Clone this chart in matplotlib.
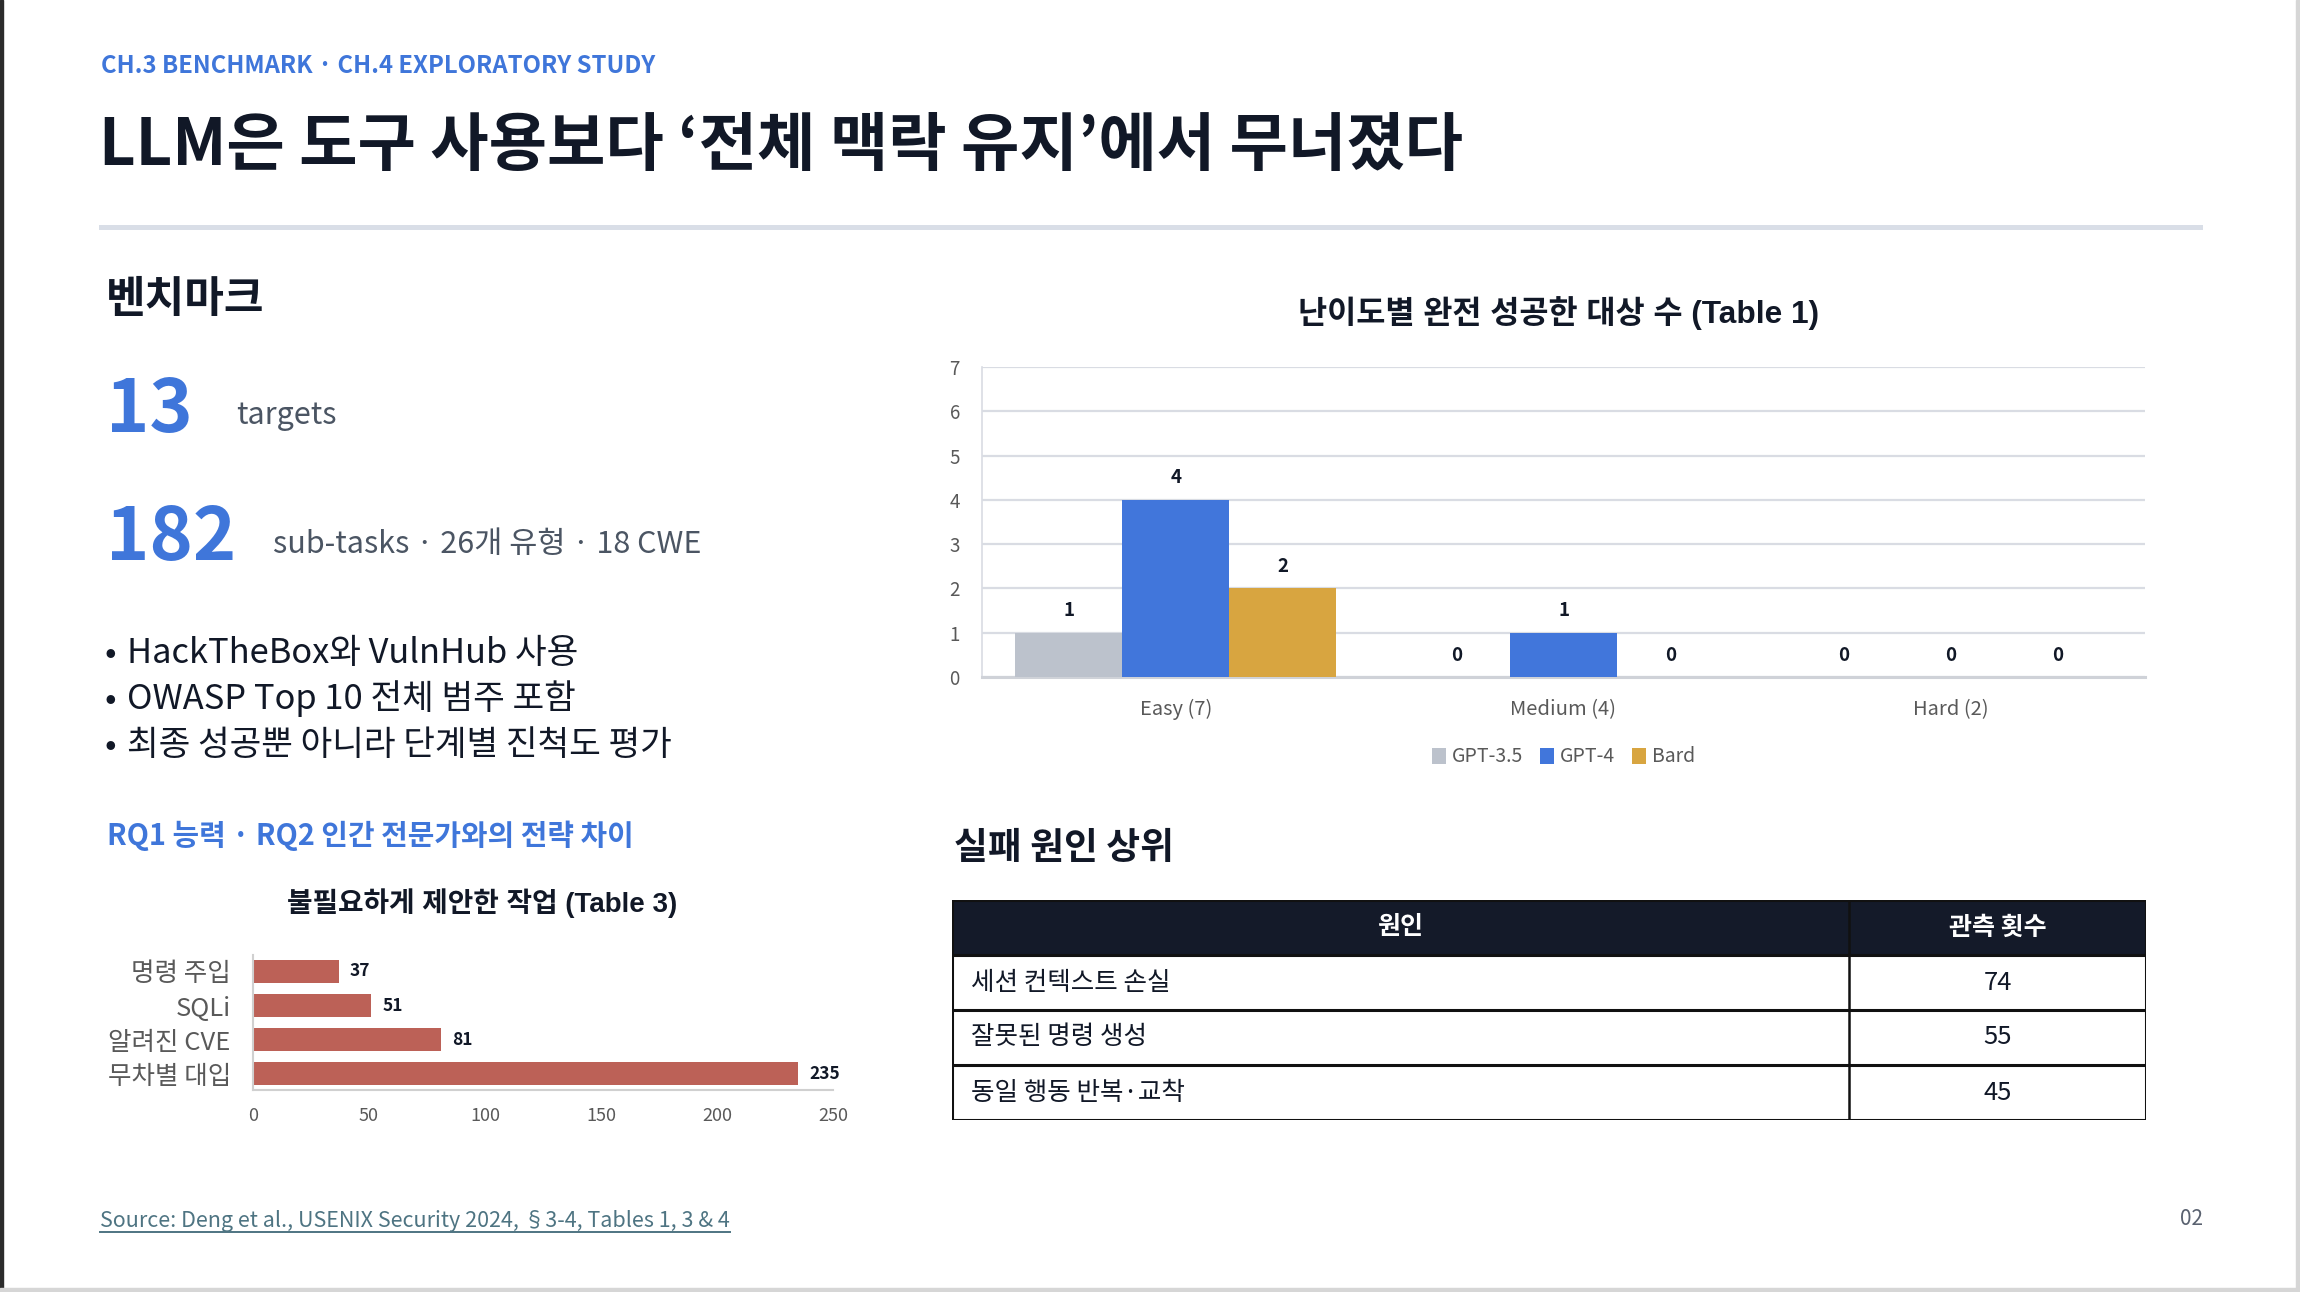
import numpy as np
import matplotlib
matplotlib.use("Agg")
import matplotlib.pyplot as plt
from matplotlib.patches import Rectangle

plt.rcParams['font.family'] = ['Noto Sans CJK KR', 'DejaVu Sans']

# ---- data ----
levels = ['Easy (7)', 'Medium (4)', 'Hard (2)']
models = ['GPT-3.5', 'GPT-4', 'Bard']
success = {
    'GPT-3.5': [1, 0, 0],
    'GPT-4': [4, 1, 0],
    'Bard': [2, 0, 0],
}
model_colors = ['#bcc2cc', '#4176db', '#d8a540']

task_names = ['명령 주입', 'SQLi', '알려진 CVE', '무차별 대입']
task_counts = [37, 51, 81, 235]

cause_names = ['세션 컨텍스트 손실', '잘못된 명령 생성', '동일 행동 반복·교착']
cause_counts = [74, 55, 45]

bullets = ['HackTheBox와 VulnHub 사용',
           'OWASP Top 10 전체 범주 포함',
           '최종 성공뿐 아니라 단계별 진척도 평가']

W, H = 2300, 1292
BLUE = '#3f76da'
DARK = '#111827'
GRAY = '#595959'


def fx(px):
    return px / W


def fy(py):
    return 1 - py / H


fig = plt.figure(figsize=(W / 100, H / 100), dpi=100)
fig.patch.set_facecolor('white')

# page frame
fig.add_artist(Rectangle((0, 0), fx(3), 1, transform=fig.transFigure, color='#2b2b2b', zorder=0))
fig.add_artist(Rectangle((fx(2296), 0), fx(4), 1, transform=fig.transFigure, color='#d6d6d6', zorder=0))
fig.add_artist(Rectangle((0, 0), 1, 4 / H, transform=fig.transFigure, color='#d6d6d6', zorder=0))

# header
fig.text(fx(101), fy(66), 'CH.3 BENCHMARK · CH.4 EXPLORATORY STUDY', color=BLUE,
         fontsize=17.2, fontweight='bold', va='center')
fig.text(fx(99), fy(165), 'LLM은 도구 사용보다 ‘전체 맥락 유지’에서 무너졌다', color=DARK,
         fontsize=45.7, fontweight='bold', va='baseline')
fig.add_artist(plt.Line2D([fx(101), fx(2200)], [fy(226.5), fy(226.5)], transform=fig.transFigure,
                          color='#d9dee7', lw=3.6))

# left column text
fig.text(fx(106), fy(299), '벤치마크', color=DARK, fontsize=31, fontweight='bold', va='center')
fig.text(fx(106), fy(432), '13', color=BLUE, fontsize=53, fontweight='bold', va='baseline')
fig.text(fx(236), fy(424), 'targets', color='#4b5563', fontsize=22, va='baseline')
fig.text(fx(106), fy(560), '182', color=BLUE, fontsize=53, fontweight='bold', va='baseline')
fig.text(fx(273), fy(553), 'sub-tasks · 26개 유형 · 18 CWE', color='#4b5563', fontsize=22, va='baseline')
for i, b in enumerate(bullets):
    fig.text(fx(105), fy(663 + 46 * i), '•', color=DARK, fontsize=24.8, va='baseline')
    fig.text(fx(127), fy(663 + 46 * i), b, color=DARK, fontsize=24.8, va='baseline')
fig.text(fx(107), fy(845), 'RQ1 능력 · RQ2 인간 전문가와의 전략 차이', color=BLUE,
         fontsize=20.8, fontweight='bold', va='baseline')

# ---- small horizontal bar chart ----
fig.text(fx(482), fy(903), '불필요하게 제안한 작업 (Table 3)', color=DARK, fontsize=20,
         fontweight='bold', ha='center', va='center',
         family=['Liberation Sans', 'Noto Sans CJK KR'])
ax2 = fig.add_axes([fx(253), fy(1090), fx(833 - 253), (1090 - 955) / H])
ypos = np.arange(len(task_names))
bars2 = ax2.barh(ypos, task_counts, height=0.67, color='#bc6157')
ax2.set_ylim(3.47, -0.48)
ax2.set_xlim(0, 250)
ax2.set_xticks(np.arange(0, 251, 50))
ax2.set_yticks(ypos)
ax2.set_yticklabels(task_names)
ax2.tick_params(axis='x', length=0, pad=12, labelsize=13, labelcolor=GRAY)
ax2.tick_params(axis='y', length=0, pad=16, labelsize=18.4, labelcolor=GRAY)
for s in ['top', 'right']:
    ax2.spines[s].set_visible(False)
for s in ['left', 'bottom']:
    ax2.spines[s].set_color('#d0d0d0')
    ax2.spines[s].set_linewidth(1.5)
ax2.bar_label(bars2, padding=8, fontsize=12.5, fontweight='bold', color=DARK)

# ---- grouped bar chart ----
fig.text(fx(1559), fy(313), '난이도별 완전 성공한 대상 수 (Table 1)', color=DARK, fontsize=22.8,
         fontweight='bold', ha='center', va='center',
         family=['Liberation Sans', 'Noto Sans CJK KR'])
ax1 = fig.add_axes([fx(982), fy(677), fx(2145 - 982), (677 - 367) / H])
x = np.arange(len(levels))
bw = 0.276
for i, m in enumerate(models):
    bb = ax1.bar(x + (i - 1) * bw, success[m], width=bw, color=model_colors[i], label=m, zorder=3)
    ax1.bar_label(bb, padding=9, fontsize=13.5, fontweight='bold', color=DARK)
ax1.set_xlim(-0.5, 2.5)
ax1.set_ylim(0, 7)
ax1.set_yticks(range(0, 8))
ax1.set_xticks(x)
ax1.set_xticklabels(levels)
ax1.yaxis.grid(True, color='#d9dce3', lw=1.6, zorder=0)
ax1.set_axisbelow(True)
ax1.tick_params(axis='y', length=0, pad=16, labelsize=13.5, labelcolor=GRAY)
ax1.tick_params(axis='x', length=0, pad=16, labelsize=14.5, labelcolor=GRAY)
for s in ['top', 'right']:
    ax1.spines[s].set_visible(False)
ax1.spines['left'].set_color('#d9dce3')
ax1.spines['left'].set_linewidth(1.2)
ax1.spines['bottom'].set_color('#cfd2d8')
ax1.spines['bottom'].set_linewidth(2.2)
ax1.legend(loc='center', bbox_to_anchor=(0.5, -0.258), ncol=3, frameon=False, fontsize=14,
           handlelength=0.7, handleheight=0.9, handletextpad=0.3, columnspacing=0.9,
           labelcolor=GRAY)

# ---- table ----
fig.text(fx(954), fy(848), '실패 원인 상위', color=DARK, fontsize=26.5, fontweight='bold', va='center')
L, R, T, B = 952, 2146, 900, 1120
split = 1849
axt = fig.add_axes([fx(L), fy(B), fx(R - L), (B - T) / H])
axt.set_xlim(L, R)
axt.set_ylim(B, T)
axt.axis('off')
row_h = (B - T) / (len(cause_names) + 1)
axt.add_patch(Rectangle((L, T), R - L, row_h, color='#141a29', zorder=1))
axt.text((L + split) / 2, T + row_h / 2, '원인', color='white', fontsize=18, fontweight='bold',
         ha='center', va='center')
axt.text((split + R) / 2, T + row_h / 2, '관측 횟수', color='white', fontsize=18, fontweight='bold',
         ha='center', va='center')
for i, (name, cnt) in enumerate(zip(cause_names, cause_counts)):
    yc = T + row_h * (i + 1.5)
    axt.text(L + 19, yc, name, color=DARK, fontsize=18.4, ha='left', va='center')
    axt.text((split + R) / 2, yc, str(cnt), color=DARK, fontsize=18.4, ha='center', va='center')
for k in range(len(cause_names) + 2):
    yl = T + row_h * k
    axt.plot([L, R], [yl, yl], color='#111111', lw=2.2, zorder=3, solid_capstyle='projecting')
axt.plot([L, L], [T, B], color='#111111', lw=2.2, zorder=3)
axt.plot([R, R], [T, B], color='#111111', lw=2.2, zorder=3)
axt.plot([split, split], [T, B], color='#111111', lw=1.8, zorder=3)

# footer
src = fig.text(fx(100), fy(1227), 'Source: Deng et al., USENIX Security 2024, §3-4, Tables 1, 3 & 4',
               color='#4e7482', fontsize=15.5, va='baseline')
fig.canvas.draw()
bb = src.get_window_extent()
fig.add_artist(plt.Line2D([bb.x0 / W, bb.x1 / W], [fy(1232), fy(1232)], transform=fig.transFigure,
                          color='#4e7482', lw=1.4))
fig.text(fx(2203), fy(1219), '02', color='#5a6270', fontsize=15, ha='right', va='center')

fig.savefig('out.png', dpi=100)
